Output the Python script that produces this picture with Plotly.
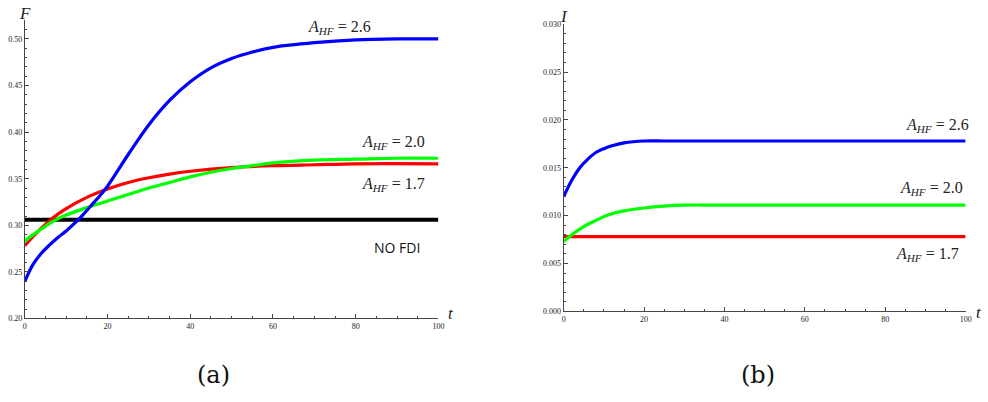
import plotly.graph_objects as go

W, H = 988, 402

# ---------------- Data: panel (a) F(t) ----------------
t_blue_a = [0, 2, 4, 6, 8, 10, 12, 14, 16, 18, 20, 25, 30, 35, 40, 45, 50, 55, 60, 70, 80, 90, 100]
F_blue = [0.240, 0.258, 0.270, 0.279, 0.287, 0.294, 0.302, 0.311, 0.321, 0.331, 0.342, 0.376, 0.408,
          0.434, 0.454, 0.469, 0.479, 0.486, 0.491, 0.496, 0.499, 0.500, 0.500]
t_red_a = [0, 2, 4, 6, 8, 10, 15, 20, 25, 30, 35, 40, 50, 60, 70, 80, 100]
F_red = [0.278, 0.288, 0.297, 0.305, 0.312, 0.318, 0.330, 0.339, 0.346, 0.351, 0.355, 0.358,
         0.362, 0.364, 0.365, 0.366, 0.366]
t_green_a = [0, 2, 4, 6, 8, 10, 15, 20, 25, 30, 35, 40, 45, 50, 55, 60, 70, 80, 90, 100]
F_green = [0.283, 0.290, 0.296, 0.302, 0.307, 0.311, 0.319, 0.326, 0.333, 0.340, 0.346, 0.352,
           0.357, 0.361, 0.364, 0.367, 0.370, 0.371, 0.372, 0.372]
t_black_a = [0, 100]
F_nofdi = [0.306, 0.306]

# ---------------- Data: panel (b) I(t) ----------------
t_blue_b = [0, 2, 4, 6, 8, 10, 12, 15, 20, 25, 30, 50, 75, 100]
I_blue = [0.0120, 0.0137, 0.0150, 0.0159, 0.0166, 0.0170, 0.0173, 0.0176, 0.0178, 0.0178,
          0.0178, 0.0178, 0.0178, 0.0178]
t_green_b = [0, 2, 4, 6, 8, 10, 12, 15, 20, 25, 30, 40, 100]
I_green = [0.0073, 0.0080, 0.0086, 0.0091, 0.0095, 0.0099, 0.0102, 0.0105, 0.0108, 0.0110,
           0.0111, 0.0111, 0.0111]
t_red_b = [0, 100]
I_red = [0.0078, 0.0078]

labels = ["<i>A<sub>HF</sub></i> = 2.6", "<i>A<sub>HF</sub></i> = 2.0", "<i>A<sub>HF</sub></i> = 1.7"]
BLUE, RED, GREEN = "#0000ff", "#ff0000", "#00ff00"


def px(x):
    return x / W


def py(y):
    return 1 - y / H


fig = go.Figure()
lw = 3.2
fig.add_trace(go.Scatter(x=t_black_a, y=F_nofdi, mode="lines", line=dict(color="black", width=lw + 0.6),
                         xaxis="x", yaxis="y"))
fig.add_trace(go.Scatter(x=t_red_a, y=F_red, mode="lines", line=dict(color=RED, width=lw, shape="spline"),
                         xaxis="x", yaxis="y"))
fig.add_trace(go.Scatter(x=t_green_a, y=F_green, mode="lines", line=dict(color=GREEN, width=lw, shape="spline"),
                         xaxis="x", yaxis="y"))
fig.add_trace(go.Scatter(x=t_blue_a, y=F_blue, mode="lines", line=dict(color=BLUE, width=lw, shape="spline"),
                         xaxis="x", yaxis="y"))

fig.add_trace(go.Scatter(x=t_red_b, y=I_red, mode="lines", line=dict(color=RED, width=lw),
                         xaxis="x2", yaxis="y2"))
fig.add_trace(go.Scatter(x=t_green_b, y=I_green, mode="lines", line=dict(color=GREEN, width=lw, shape="spline"),
                         xaxis="x2", yaxis="y2"))
fig.add_trace(go.Scatter(x=t_blue_b, y=I_blue, mode="lines", line=dict(color=BLUE, width=lw, shape="spline"),
                         xaxis="x2", yaxis="y2"))

tickfont = dict(family="Liberation Serif", size=8, color="#222")
common = dict(showgrid=False, zeroline=False, showline=True, linecolor="#444", linewidth=1,
              ticks="inside", ticklen=4, tickcolor="#444", tickfont=tickfont)

fig.update_layout(
    width=W, height=H, margin=dict(l=0, r=0, t=0, b=0),
    paper_bgcolor="white", plot_bgcolor="white", showlegend=False,
    xaxis=dict(domain=[px(23), px(440)], range=[0, 100], dtick=20, anchor="y",
               minor=dict(dtick=5, ticks="inside", ticklen=2.5, tickcolor="#444"), **common),
    yaxis=dict(domain=[py(321.7), py(16.7)], range=[0.2, 0.52], dtick=0.05, tick0=0.2,
               tickformat=".2f", anchor="x",
               minor=dict(dtick=0.01, ticks="inside", ticklen=2.5, tickcolor="#444"), **common),
    xaxis2=dict(domain=[px(566.3), px(971.5)], range=[0, 100], dtick=20, anchor="y2",
                minor=dict(dtick=5, ticks="inside", ticklen=2.5, tickcolor="#444"), **common),
    yaxis2=dict(domain=[py(314.4), py(20.7)], range=[0, 0.03], dtick=0.005, tickformat=".3f",
                anchor="x2",
                minor=dict(dtick=0.001, ticks="inside", ticklen=2.5, tickcolor="#444"), **common),
)

serif = "Liberation Serif"
ann = []


def add_text(x, y, text, size=16, family=serif, color="#222"):
    ann.append(dict(x=px(x), y=py(y), xref="paper", yref="paper", text=text, showarrow=False,
                    font=dict(family=family, size=size, color=color), xanchor="center", yanchor="middle"))


# axis letters
add_text(23, 10, "<i>F</i>", 17)
add_text(453, 317, "<i>t</i>", 17)
add_text(567, 13, "<i>I</i>", 17)
add_text(985, 316, "<i>t</i>", 17)

# panel (a) labels
add_text(340, 24, labels[0], 16)
add_text(395, 142, labels[1], 16)
add_text(395, 185, labels[2], 16)
add_text(398, 249, "NO FDI", 14, family="Open Sans", color="#111")

# panel (b) labels
add_text(943, 124, labels[0], 16)
add_text(937, 189, labels[1], 16)
add_text(933, 256, labels[2], 16)

# sub-figure captions
add_text(213, 380, "(a)", 24, family="DejaVu Serif", color="#111")
add_text(762, 380, "(b)", 24, family="DejaVu Serif", color="#111")

fig.update_layout(annotations=ann)
fig.write_html("out.html")
